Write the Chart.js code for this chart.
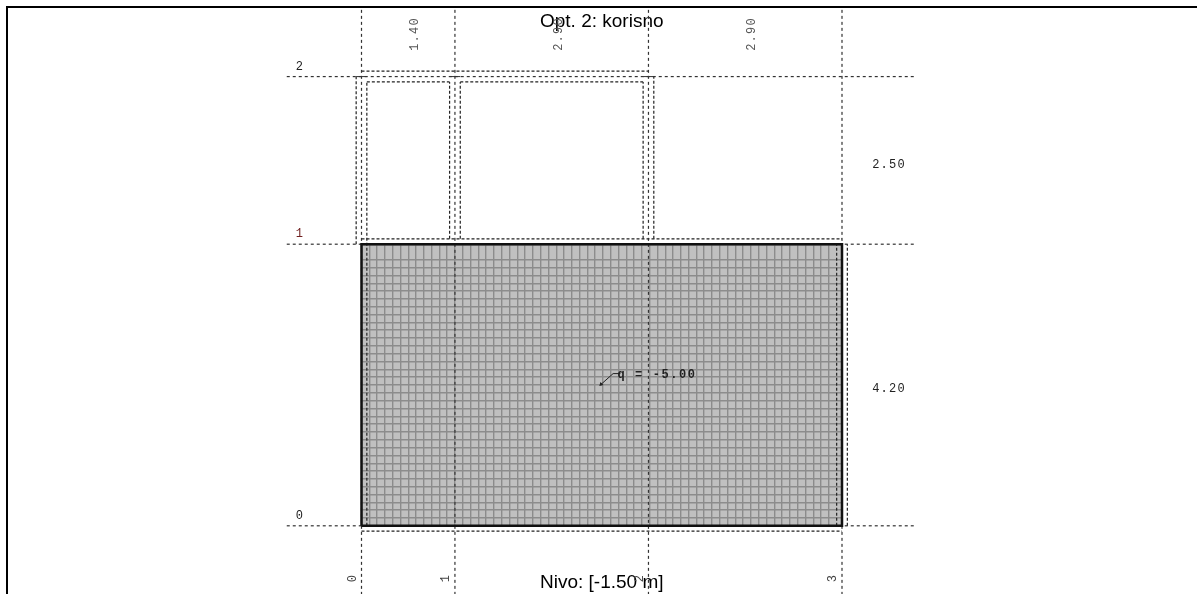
<!DOCTYPE html>
<html>
<head>
<meta charset="utf-8">
<script src="https://cdn.jsdelivr.net/npm/chart.js@4"></script>
<style>
  html, body { margin: 0; padding: 0; background: #fff; overflow: hidden; }
  #frame { position: absolute; left: 6px; top: 6px; width: 1300px; height: 700px; border: 2px solid #000; box-sizing: border-box; }
  #wrap { position: absolute; left: 0; top: 0; width: 1197px; height: 594px; }
</style>
</head>
<body>
<div id="frame"></div>
<div id="wrap"><canvas id="plate" width="1197" height="594"></canvas></div>
<script>
// all in metres
const axisX = [0, 1.4, 4.3, 7.2];
const axisY = [0, 4.2, 6.7];
const axisXNames = ["0", "1", "2", "3"];
const axisYNames = ["0", "1", "2"];
const spansX = ["1.40", "2.90", "2.90"];
const spansY = ["4.20", "2.50"];
const loadText = "q = -5.00";
const loadArrow = [[3.59, 2.11], [3.77, 2.27], [3.88, 2.27]];
const meshStep = 0.1167;
const plateEdge = [[0, 0], [7.2, 0], [7.2, 4.2], [0, 4.2], [0, 0]];

// x1, y1, x2, y2 of the dashed wall outlines
const wallLines = [
  [-0.08, 4.2, -0.08, 6.7], [0.08, 0, 0.08, 6.62], [1.32, 4.28, 1.32, 6.62], [1.48, 4.28, 1.48, 6.62],
  [4.22, 4.28, 4.22, 6.62], [4.38, 4.28, 4.38, 6.7], [7.12, 0, 7.12, 4.2], [7.28, 0, 7.28, 4.2],
  [0, 6.78, 4.3, 6.78], [0.08, 6.62, 1.32, 6.62], [1.48, 6.62, 4.22, 6.62], [0, 4.28, 7.2, 4.28], [0, -0.08, 7.2, -0.08]
];
// short solid marks where walls meet the top line
const wallCaps = [[-0.08, 6.7, 0.08, 6.7], [1.32, 6.7, 1.48, 6.7], [4.22, 6.7, 4.38, 6.7]];

const segs = (list, style) => list.map(s => ({
  type: "scatter", showLine: true, clip: false, pointRadius: 0, borderWidth: 1, borderColor: "#222",
  data: [{ x: s[0], y: s[1] }, { x: s[2], y: s[3] }], ...style
}));

const gridLines = [
  ...axisX.map(x => [x, -1.03, x, 7.74]),
  ...axisY.map(y => [-1.12, y, 8.28, y])
];

// text and plate fill hung off the scales
const planPlugin = {
  id: "plan",
  beforeDraw(chart) {
    const { ctx, chartArea: a } = chart;
    ctx.save();
    ctx.fillStyle = "#c0c0c0";
    ctx.fillRect(a.left, a.top, a.width, a.height);
    ctx.restore();
  },
  afterDatasetsDraw(chart) {
    const { ctx, scales: { x, y } } = chart;
    const put = (text, px, py, color, rot) => {
      ctx.save();
      ctx.translate(px, py);
      if (rot) ctx.rotate(-Math.PI / 2);
      ctx.font = "12px 'Liberation Mono'";
      ctx.letterSpacing = "1.2px";
      ctx.fillStyle = color;
      ctx.textAlign = "center";
      ctx.textBaseline = "middle";
      ctx.fillText(text, 0, 0);
      ctx.restore();
    };
    axisX.forEach((v, i) => put(axisXNames[i], x.getPixelForValue(v) - 9, 578, "#444", true));
    axisY.forEach((v, i) => put(axisYNames[i], 300, y.getPixelForValue(v) - 10, i == 1 ? "#702020" : "#222"));
    spansX.forEach((t, i) => put(t, (x.getPixelForValue(axisX[i]) + x.getPixelForValue(axisX[i + 1])) / 2 + 7, 34, "#555", true));
    spansY.forEach((t, i) => put(t, 889, (y.getPixelForValue(axisY[i]) + y.getPixelForValue(axisY[i + 1])) / 2 + 4, "#222"));
    ctx.save();
    ctx.font = "bold 12px 'Liberation Mono'";
    ctx.letterSpacing = "1.6px";
    ctx.fillStyle = "#222";
    ctx.textBaseline = "middle";
    ctx.fillText(loadText, x.getPixelForValue(loadArrow[2][0]) - 3, y.getPixelForValue(loadArrow[2][1]) + 1);
    ctx.restore();
  }
};

new Chart(document.getElementById("plate"), {
  type: "scatter",
  data: {
    datasets: [
      {
        type: "scatter", showLine: true, clip: false, borderWidth: 2.5, borderColor: "#111", pointRadius: 0,
        data: plateEdge.map(p => ({ x: p[0], y: p[1] }))
      },
      ...segs(gridLines, { borderColor: "#333", borderWidth: 1.2, borderDash: [3, 3] }),
      ...segs(wallLines, { borderColor: "#222", borderWidth: 1.2, borderDash: [3, 2] }),
      ...segs(wallCaps, { borderColor: "#333" }),
      {
        type: "scatter", showLine: true, clip: false, borderWidth: 1, borderColor: "#222",
        pointRadius: [2.5, 0, 0], pointStyle: "triangle", pointRotation: 225, pointBackgroundColor: "#222", pointBorderWidth: 0,
        data: loadArrow.map(p => ({ x: p[0], y: p[1] }))
      }
    ]
  },
  options: {
    responsive: false,
    animation: false,
    events: [],
    layout: { padding: { left: 361.5, right: 355, top: 8, bottom: 0 } },
    plugins: {
      legend: { display: false },
      tooltip: { enabled: false },
      title: {
        display: true, text: "Opt. 2: korisno", color: "#000",
        font: { family: "Liberation Sans", size: 19, weight: "normal" },
        padding: { top: 2, bottom: 211.4 }
      },
      subtitle: {
        display: true, position: "bottom", text: "Nivo: [-1.50 m]", color: "#000",
        font: { family: "Liberation Sans", size: 19, weight: "normal" },
        padding: { top: 45.4, bottom: 0 }
      }
    },
    scales: {
      x: {
        type: "linear", min: 0, max: 7.2, display: true,
        ticks: { display: false, stepSize: meshStep, autoSkip: false, maxTicksLimit: 100 },
        grid: { color: "#8c8c8c", lineWidth: 1.4, drawTicks: false },
        border: { display: false }
      },
      y: {
        type: "linear", min: 0, max: 4.2, display: true,
        ticks: { display: false, stepSize: meshStep, autoSkip: false, maxTicksLimit: 100 },
        grid: { color: "#8c8c8c", lineWidth: 1.4, drawTicks: false },
        border: { display: false }
      }
    }
  },
  plugins: [planPlugin]
});
</script>
</body>
</html>
